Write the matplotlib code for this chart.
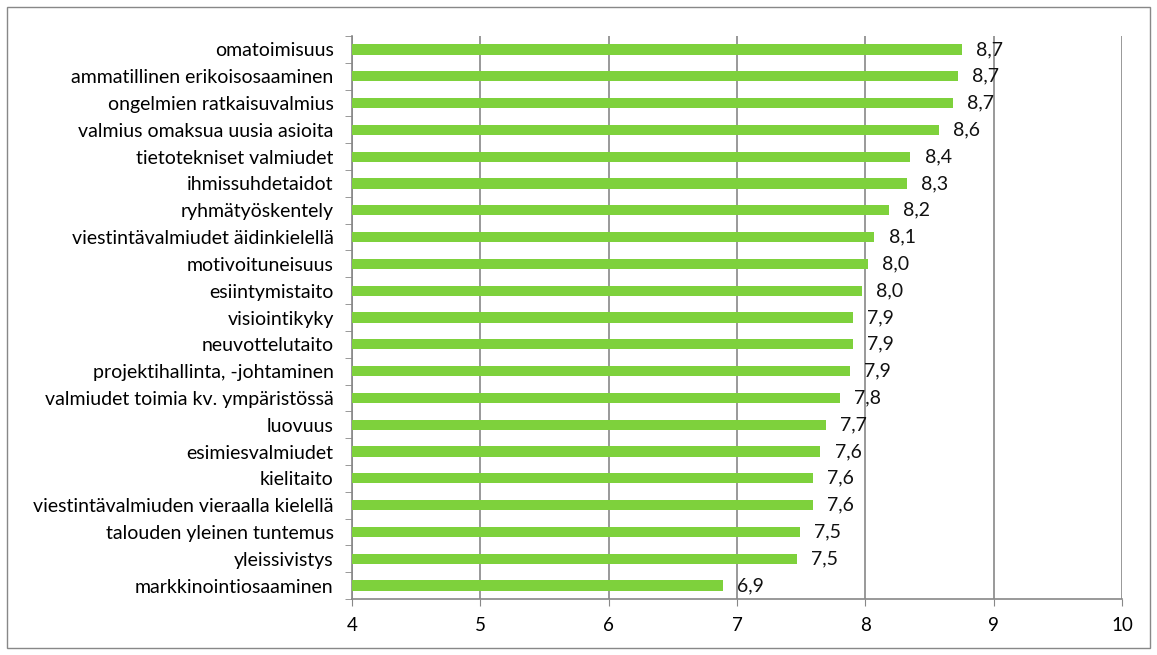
import matplotlib
matplotlib.use('Agg')
import matplotlib.pyplot as plt
from matplotlib.patches import Rectangle

plt.rcParams['font.family'] = ['Lato', 'DejaVu Sans']

categories = ['omatoimisuus', 'ammatillinen erikoisosaaminen', 'ongelmien ratkaisuvalmius',
              'valmius omaksua uusia asioita', 'tietotekniset valmiudet', 'ihmissuhdetaidot',
              'ryhmätyöskentely', 'viestintävalmiudet äidinkielellä', 'motivoituneisuus',
              'esiintymistaito', 'visiointikyky', 'neuvottelutaito',
              'projektihallinta, -johtaminen', 'valmiudet toimia kv. ympäristössä', 'luovuus',
              'esimiesvalmiudet', 'kielitaito', 'viestintävalmiuden vieraalla kielellä',
              'talouden yleinen tuntemus', 'yleissivistys', 'markkinointiosaaminen']
values = [8.75, 8.72, 8.68, 8.57, 8.35, 8.32, 8.18, 8.07, 8.02, 7.97, 7.90, 7.90,
          7.88, 7.80, 7.69, 7.65, 7.59, 7.59, 7.49, 7.47, 6.89]
labels = ['8,7', '8,7', '8,7', '8,6', '8,4', '8,3', '8,2', '8,1', '8,0', '8,0', '7,9', '7,9',
          '7,9', '7,8', '7,7', '7,6', '7,6', '7,6', '7,5', '7,5', '6,9']

fig = plt.figure(figsize=(11.57, 6.55), dpi=100)
ax = fig.add_axes([0.304, 0.0855, 0.666, 0.8595])

y = list(range(len(categories)))[::-1]
ax.barh(y, values, left=0, height=0.38, color='#7ED13C', zorder=3)
for yi, v, lab in zip(y, values, labels):
    ax.text(v + 0.11, yi, lab, va='center', ha='left', fontsize=14, color='#111111', zorder=4)

ax.set_xlim(4, 10)
ax.set_ylim(-0.5, len(categories) - 0.5)
ax.set_xticks(range(4, 11))
ax.set_yticks(y)
ax.set_yticklabels(categories, fontsize=14)
ax.tick_params(axis='y', length=0, pad=13)
ax.tick_params(axis='x', length=5, color='#888888', labelsize=13.5, pad=8)

# minor ticks between categories on the y axis
ax.set_yticks([i - 0.5 for i in range(len(categories) + 1)], minor=True)
ax.tick_params(axis='y', which='minor', length=5, color='#888888')

ax.grid(axis='x', color='#888888', linewidth=1.2, zorder=0)
for s in ['top', 'right']:
    ax.spines[s].set_visible(False)
for s in ['left', 'bottom']:
    ax.spines[s].set_color('#888888')
    ax.spines[s].set_linewidth(1.2)

fig.patches.append(Rectangle((0.006, 0.011), 0.988, 0.978, transform=fig.transFigure,
                             fill=False, edgecolor='#888888', linewidth=1))

fig.savefig('out.png', dpi=100)
